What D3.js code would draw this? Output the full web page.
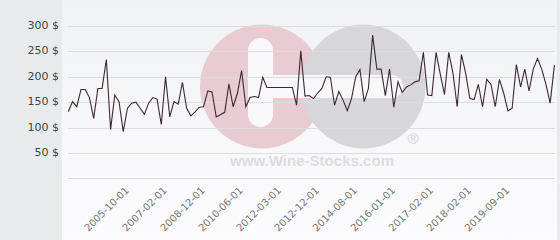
<!DOCTYPE html>
<html>
<head>
<meta charset="utf-8">
<script src="https://cdn.jsdelivr.net/npm/d3@7"></script>
<style>
  body { margin: 0; background: #fff; }
  svg { display: block; font-family: "DejaVu Sans", sans-serif; }
</style>
</head>
<body>
<svg id="chart"></svg>
<script>
// price per bottle, one value per quote
const prices = [
  131, 151, 141, 175, 175, 159, 118, 177, 177, 234,
  96, 164, 151, 92, 138, 148, 150, 138, 126, 148,
  159, 156, 106, 200, 121, 151, 146, 189, 138, 123,
  131, 140, 141, 172, 170, 121, 125, 130, 186, 141,
  167, 212, 141, 159, 161, 159, 199, 179, 179, 179,
  179, 179, 179, 179, 144, 251, 162, 163, 157, 168,
  177, 200, 199, 144, 171, 154, 133, 157, 200, 214,
  151, 177, 282, 215, 215, 163, 215, 140, 190, 169,
  180, 184, 190, 192, 248, 164, 163, 248, 205, 165,
  248, 207, 141, 244, 207, 157, 155, 185, 141, 195,
  185, 141, 195, 168, 133, 138, 224, 180, 215, 172,
  215, 236, 215, 185, 148, 223
];
const tickIndex = [14, 23, 32, 41, 50, 59, 68, 77, 86, 95, 104];
const tickLabels = [
  "2005-10-01", "2007-02-01", "2008-12-01", "2010-06-01", "2012-03-01",
  "2012-12-01", "2014-08-01", "2016-01-01", "2017-02-01", "2018-02-01", "2019-09-01"
];
const yTicks = [0, 50, 100, 150, 200, 250, 300];

const width = 560;
const height = 240;
const panelWidth = 62;

const svg = d3.select("#chart").attr("width", width).attr("height", height);

const x = d3.scaleLinear().domain([0, prices.length - 1]).range([68.3, 554.4]);
const y = d3.scaleLinear().domain([0, 300]).range([178.3, 26]);

// backgrounds
const grad = svg.append("defs").append("linearGradient")
  .attr("id", "bg").attr("x1", 0).attr("y1", 0).attr("x2", 0).attr("y2", 1);
grad.append("stop").attr("offset", "0%").attr("stop-color", "#f1f2f6");
grad.append("stop").attr("offset", "100%").attr("stop-color", "#fcfcfe");

svg.append("rect").attr("width", width).attr("height", height).attr("fill", "url(#bg)");
svg.append("rect").attr("width", panelWidth).attr("height", height).attr("fill", "#e7ebee");
svg.append("rect").attr("x", 557).attr("width", 3).attr("height", height).attr("fill", "#e7ebee");

// watermark logo
const logo = svg.append("g").attr("class", "watermark");
logo.append("circle").attr("cx", 262).attr("cy", 86.5).attr("r", 62).attr("fill", "#e9cbd2");
logo.append("circle").attr("cx", 363.5).attr("cy", 86.5).attr("r", 62).attr("fill", "#d7d7d9");
logo.append("rect")
  .attr("x", 248).attr("y", 38).attr("width", 25).attr("height", 89)
  .attr("rx", 12.5).attr("fill", "#f8f8fa");
logo.append("rect")
  .attr("x", 250).attr("y", 75).attr("width", 153).attr("height", 23)
  .attr("rx", 11.5).attr("fill", "#f8f8fa");
logo.append("text")
  .attr("x", 413).attr("y", 144)
  .attr("text-anchor", "middle")
  .attr("font-family", "Liberation Sans, Arial, sans-serif")
  .attr("font-size", "15px")
  .attr("fill", "#d2d2d4")
  .text("®");
logo.append("text")
  .attr("x", 312).attr("y", 166)
  .attr("text-anchor", "middle")
  .attr("font-family", "Liberation Sans, Arial, sans-serif")
  .attr("font-weight", "bold")
  .attr("font-size", "15px")
  .attr("textLength", 164)
  .attr("fill", "#dcdcde")
  .text("www.Wine-Stocks.com");

// grid
svg.selectAll(".grid")
  .data(yTicks)
  .enter()
  .append("line")
  .attr("class", "grid")
  .attr("x1", 68)
  .attr("x2", 555)
  .attr("y1", (d) => Math.round(y(d)) + 0.5)
  .attr("y2", (d) => Math.round(y(d)) + 0.5)
  .attr("stroke", "#dcdddf")
  .attr("stroke-width", 1);

svg.selectAll(".y-label")
  .data(yTicks.filter((d) => d > 0))
  .enter()
  .append("text")
  .attr("class", "y-label")
  .attr("x", 59)
  .attr("y", (d) => y(d))
  .attr("text-anchor", "end")
  .attr("dominant-baseline", "middle")
  .attr("font-size", "11px")
  .attr("fill", "#444")
  .text((d) => d + " $");

svg.selectAll(".x-label")
  .data(tickIndex)
  .enter()
  .append("text")
  .attr("class", "x-label")
  .attr("transform", (d) => `translate(${x(d) + 2},${191}) rotate(-45)`)
  .attr("text-anchor", "end")
  .attr("font-size", "10px")
  .attr("fill", "#777")
  .text((d, i) => tickLabels[i]);

// price line
const line = d3.line()
  .x((d, i) => x(i))
  .y((d) => y(d));

svg.append("path")
  .datum(prices)
  .attr("d", line)
  .attr("fill", "none")
  .attr("stroke", "#3d2832")
  .attr("stroke-width", 1.1)
  .attr("stroke-linejoin", "miter");
</script>
</body>
</html>
